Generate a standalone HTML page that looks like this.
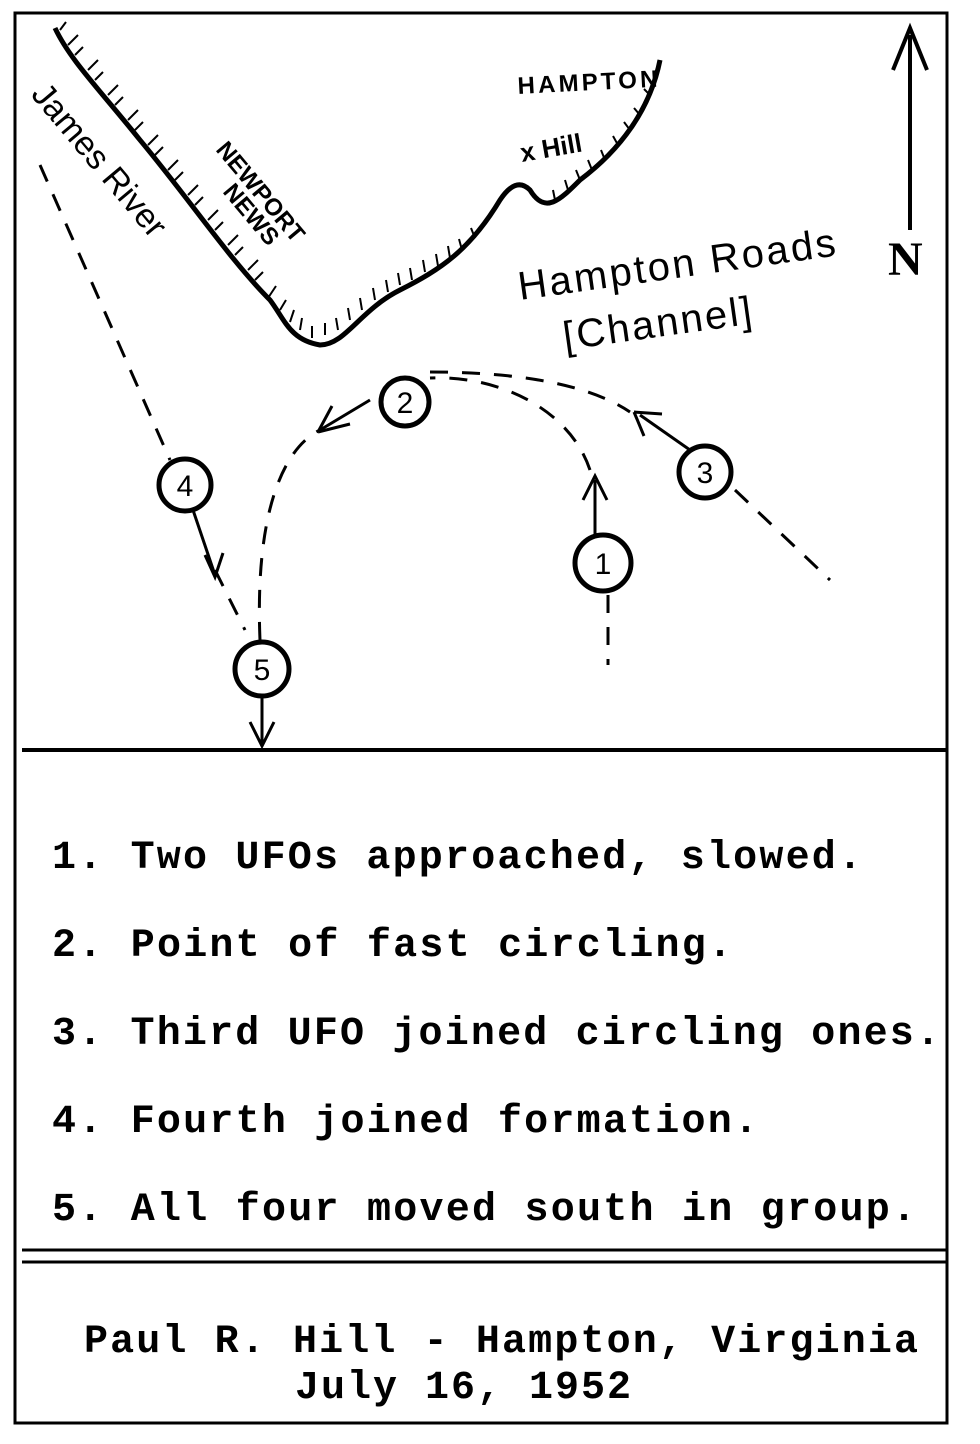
<!DOCTYPE html>
<html><head><meta charset="utf-8"><style>
html,body{margin:0;padding:0;background:#fff;}
svg{display:block}
</style></head><body>
<svg width="980" height="1444" viewBox="0 0 980 1444" xmlns="http://www.w3.org/2000/svg">
<rect width="980" height="1444" fill="#fff"/>
<g fill="none" stroke="#000" stroke-width="3">
<rect x="15" y="13" width="932" height="1410"/>
<line x1="22" y1="750" x2="947" y2="750" stroke-width="4"/>
<line x1="22" y1="1250" x2="947" y2="1250"/>
<line x1="22" y1="1262" x2="947" y2="1262"/>
</g>
<!-- coast -->
<path d="M55 28 C70 60 100 90 140 140 C190 200 230 260 270 300 C285 320 290 340 320 345 C345 345 360 310 400 290 C440 270 470 250 500 200 C510 185 520 180 530 190 C545 215 560 200 580 180 C620 150 650 110 660 60" fill="none" stroke="#000" stroke-width="5"/>
<g stroke="#000" stroke-width="2">
<path d="M60 30 l6 -8 M75 55 l8 -8 M95 80 l8 -8 M115 105 l8 -8 M135 130 l8 -8 M155 155 l8 -8 M175 180 l8 -8 M195 205 l8 -8 M215 230 l8 -8 M235 255 l8 -8 M255 280 l8 -8 M280 310 l6 -10 M300 330 l2 -12 M325 335 l0 -12 M350 320 l-2 -12 M375 300 l-2 -12 M400 285 l-2 -12 M425 272 l-2 -12 M450 258 l-2 -12 M475 238 l-4 -10 M555 200 l-2 -10 M580 180 l-4 -10 M605 160 l-4 -10 M630 130 l-6 -8 M650 95 l-6 -6"/>
<path d="M68 45 l10 -10 M88 70 l10 -10 M108 95 l10 -10 M128 120 l10 -10 M148 145 l10 -10 M168 170 l10 -10 M188 195 l10 -10 M208 220 l10 -10 M228 245 l10 -10 M248 270 l10 -10 M268 298 l8 -12 M290 322 l4 -12 M312 338 l0 -12 M338 330 l-2 -12 M362 310 l-2 -12 M388 292 l-2 -12 M412 280 l-2 -12 M438 266 l-2 -12 M462 250 l-3 -11 M568 190 l-3 -10 M592 170 l-4 -10 M618 145 l-5 -9 M640 115 l-6 -7"/>
</g>
<g font-family="Liberation Sans, sans-serif" font-weight="bold" fill="#000">
<text x="518" y="94" font-size="24" transform="rotate(-3 518 94)" textLength="140">HAMPTON</text>
<text x="522" y="162" font-size="26" transform="rotate(-10 522 162)">x Hill</text>
<text x="215" y="150" font-size="24" transform="rotate(50 215 150)">NEWPORT</text>
<text x="222" y="192" font-size="24" transform="rotate(50 222 192)">NEWS</text>
<text x="30" y="95" font-size="34" font-weight="normal" transform="rotate(50 30 95)">James River</text>
<text x="520" y="300" font-size="40" font-weight="normal" transform="rotate(-8 520 300)" textLength="320">Hampton Roads</text>
<text x="565" y="350" font-size="40" font-weight="normal" transform="rotate(-8 565 350)" textLength="190">[Channel]</text>
<text x="888" y="275" font-size="48" font-family="Liberation Serif, serif">N</text>
</g>
<line x1="910" y1="230" x2="910" y2="35" stroke="#000" stroke-width="4"/>
<path d="M893 70 L910 28 L927 70" fill="none" stroke="#000" stroke-width="4"/>
<!-- paths -->
<g fill="none" stroke="#000" stroke-width="3" stroke-dasharray="18 14">
<path d="M40 165 L170 460"/>
<path d="M215 570 L245 630"/>
<path d="M260 640 C255 520 280 450 320 430"/>
<path d="M590 470 C570 410 500 375 430 378"/>
<path d="M430 372 C520 372 590 385 630 412"/>
<path d="M735 490 L830 580"/>
<path d="M608 595 L608 665"/>
</g>
<g fill="none" stroke="#000" stroke-width="3">
<path d="M320 430 L370 400"/><path d="M318 432 l32 -8 M318 432 l14 -26"/>
<path d="M595 535 L595 480"/><path d="M583 500 l12 -24 l12 24"/>
<path d="M690 450 L640 415"/><path d="M634 412 l28 2 M634 412 l10 24"/>
<path d="M193 510 L215 575"/><path d="M205 555 l10 22 l8 -24"/>
<path d="M262 695 L262 745"/><path d="M250 722 l12 24 l12 -24"/>
</g>
<g fill="#fff" stroke="#000" stroke-width="5">
<circle cx="405" cy="402" r="24"/><circle cx="603" cy="563" r="28"/>
<circle cx="705" cy="472" r="26"/><circle cx="185" cy="485" r="26"/>
<circle cx="262" cy="669" r="27"/>
</g>
<g font-family="Liberation Sans, sans-serif" font-size="30" text-anchor="middle" fill="#000">
<text x="405" y="413">2</text><text x="603" y="574">1</text><text x="705" y="483">3</text>
<text x="185" y="496">4</text><text x="262" y="680">5</text>
</g>
<g font-family="Liberation Mono, monospace" font-weight="bold" font-size="40" fill="#000" lengthAdjust="spacing">
<text x="52" y="868" textLength="810" lengthAdjust="spacing">1. Two UFOs approached, slowed.</text>
<text x="52" y="956" textLength="680" lengthAdjust="spacing">2. Point of fast circling.</text>
<text x="52" y="1044" textLength="888" lengthAdjust="spacing">3. Third UFO joined circling ones.</text>
<text x="52" y="1132" textLength="706" lengthAdjust="spacing">4. Fourth joined formation.</text>
<text x="52" y="1220" textLength="864" lengthAdjust="spacing">5. All four moved south in group.</text>
<text x="84" y="1352" textLength="834" lengthAdjust="spacing">Paul R. Hill - Hampton, Virginia</text>
<text x="295" y="1398" textLength="336" lengthAdjust="spacing">July 16, 1952</text>
</g>
</svg>
</body></html>
